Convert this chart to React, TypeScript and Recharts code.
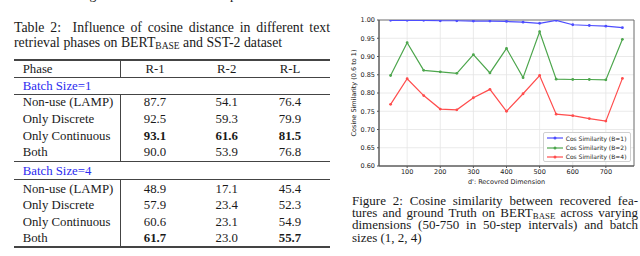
import React from "react";
import { LineChart, Line, XAxis, YAxis, CartesianGrid, Legend, ReferenceArea, Label } from "recharts";

// figure data: cosine similarity vs recovered dimension d'
const dims = [50, 100, 150, 200, 250, 300, 350, 400, 450, 500, 550, 600, 650, 700, 750];
const cosB1 = [0.999, 0.999, 0.999, 0.998, 0.998, 0.997, 0.997, 0.996, 0.994, 0.991, 0.999, 0.987, 0.985, 0.983, 0.979];
const cosB2 = [0.848, 0.938, 0.862, 0.858, 0.854, 0.905, 0.855, 0.922, 0.842, 0.968, 0.838, 0.837, 0.837, 0.836, 0.947];
const cosB4 = [0.769, 0.839, 0.793, 0.756, 0.754, 0.787, 0.81, 0.75, 0.798, 0.848, 0.742, 0.738, 0.73, 0.723, 0.84];
const xTicks = [100, 200, 300, 400, 500, 600, 700];
const yTicks = [0.6, 0.65, 0.7, 0.75, 0.8, 0.85, 0.9, 0.95, 1.0];

// table data
const phases = ["Non-use (LAMP)", "Only Discrete", "Only Continuous", "Both"];
const bs1R1 = ["87.7", "92.5", "93.1", "90.0"];
const bs1R2 = ["54.1", "59.3", "61.6", "53.9"];
const bs1RL = ["76.4", "79.9", "81.5", "76.8"];
const bs4R1 = ["48.9", "57.9", "60.6", "61.7"];
const bs4R2 = ["17.1", "23.4", "23.1", "23.0"];
const bs4RL = ["45.4", "52.3", "54.9", "55.7"];
const bs1Bold = [[false, false, false], [false, false, false], [true, true, true], [false, false, false]];
const bs4Bold = [[false, false, false], [false, false, false], [false, false, false], [true, false, true]];

const chartData = dims.map((d, i) => ({ dim: d, b1: cosB1[i], b2: cosB2[i], b4: cosB4[i] }));

const serif = "'Liberation Serif', 'Times New Roman', serif";
const ink = "#1a1a1a";

function LegendBox({ payload }: any) {
  return (
    <div style={{ border: "1px solid #d0d0d0", borderRadius: 2, background: "#fff", padding: "1px 3px", boxSizing: "border-box", width: 88, height: 30 }}>
      {(payload || []).map((p: any) => (
        <div key={p.value} style={{ display: "flex", alignItems: "center", height: 9.3, fontSize: 6, color: "#222" }}>
          <svg width={16} height={6} style={{ marginRight: 3 }}>
            <line x1={0} y1={3} x2={16} y2={3} stroke={p.color} strokeWidth={1.2} />
            <circle cx={8} cy={3} r={1.5} fill={p.color} />
          </svg>
          <span>{p.value}</span>
        </div>
      ))}
    </div>
  );
}

function Row({ y, children }: { y: number; children: React.ReactNode }) {
  return (
    <div style={{ position: "absolute", left: 0, top: y - 8, height: 16, lineHeight: "16px", width: 340 }}>{children}</div>
  );
}

function Cell({ x, text, bold, center = true }: { x: number; text: string; bold?: boolean; center?: boolean }) {
  return (
    <span style={{ position: "absolute", left: center ? x - 30 : x, width: center ? 60 : 120, textAlign: center ? "center" : "left", fontWeight: bold ? "bold" : "normal" }}>
      {text}
    </span>
  );
}

function HRule({ y, w = 1 }: { y: number; w?: number }) {
  return <div style={{ position: "absolute", left: 14, width: 316, top: y - w / 2, height: w, background: "#444" }} />;
}

function VRule({ y1, y2 }: { y1: number; y2: number }) {
  return <div style={{ position: "absolute", left: 120.3, width: 0.9, top: y1, height: y2 - y1, background: "#444" }} />;
}

const colX = [155, 226.7, 290];
const rows1Y = [102, 118.5, 135.5, 152.3];
const rows4Y = [188.5, 205, 221.5, 238];

export default function App() {
  const justify: React.CSSProperties = { textAlign: "justify", textAlignLast: "justify", whiteSpace: "nowrap" };
  return (
    <div style={{ position: "absolute", left: 0, top: 0, width: 640, height: 256, overflow: "hidden", background: "#fff", color: ink, fontFamily: serif }}>
      {/* cut-off line of body text above */}
      <div style={{ position: "absolute", left: -14, top: -13.5, fontSize: 13.5, lineHeight: "16px", width: 345 }}>
        for various ε′ settings to enhance their attack performance.
      </div>

      {/* table caption */}
      <div style={{ position: "absolute", left: 14, top: 20, width: 316, fontSize: 13.8, lineHeight: "15.3px" }}>
        <div style={justify}>Table 2:&nbsp; Influence of cosine distance in different text</div>
        <div>retrieval phases on BERT<sub style={{ fontSize: 9.5, verticalAlign: "-2px", lineHeight: 0 }}>BASE</sub> and SST-2 dataset</div>
      </div>

      {/* table */}
      <div style={{ position: "absolute", left: 0, top: 0, width: 340, height: 256, fontSize: 12.8 }}>
        <HRule y={60} w={1.3} />
        <HRule y={77} w={0.9} />
        <HRule y={94.3} w={0.9} />
        <HRule y={161.3} w={0.9} />
        <HRule y={179.7} w={0.9} />
        <HRule y={247} w={1.3} />
        <VRule y1={60} y2={77} />
        <VRule y1={94.3} y2={161.3} />
        <VRule y1={179.7} y2={247} />
        <Row y={68.5}>
          <Cell x={22.7} text="Phase" center={false} />
          <Cell x={colX[0]} text="R-1" />
          <Cell x={colX[1]} text="R-2" />
          <Cell x={colX[2]} text="R-L" />
        </Row>
        <Row y={85.5}>
          <span style={{ position: "absolute", left: 22.7, color: "#2b2bf0" }}>Batch Size=1</span>
        </Row>
        {phases.map((p, i) => (
          <Row key={"a" + p} y={rows1Y[i]}>
            <Cell x={22.7} text={p} center={false} />
            <Cell x={colX[0]} text={bs1R1[i]} bold={bs1Bold[i][0]} />
            <Cell x={colX[1]} text={bs1R2[i]} bold={bs1Bold[i][1]} />
            <Cell x={colX[2]} text={bs1RL[i]} bold={bs1Bold[i][2]} />
          </Row>
        ))}
        <Row y={170.5}>
          <span style={{ position: "absolute", left: 22.7, color: "#2b2bf0" }}>Batch Size=4</span>
        </Row>
        {phases.map((p, i) => (
          <Row key={"b" + p} y={rows4Y[i]}>
            <Cell x={22.7} text={p} center={false} />
            <Cell x={colX[0]} text={bs4R1[i]} bold={bs4Bold[i][0]} />
            <Cell x={colX[1]} text={bs4R2[i]} bold={bs4Bold[i][1]} />
            <Cell x={colX[2]} text={bs4RL[i]} bold={bs4Bold[i][2]} />
          </Row>
        ))}
      </div>

      {/* figure */}
      <div style={{ position: "absolute", left: 330, top: 0, fontFamily: "'DejaVu Sans', sans-serif" }}>
        <LineChart width={310} height={190} data={chartData} margin={{ top: 20, right: 6, bottom: 0, left: 0 }}>
          <CartesianGrid stroke="#e4e4e4" strokeWidth={0.8} />
          <XAxis
            dataKey="dim"
            type="number"
            domain={[15, 785]}
            ticks={xTicks}
            interval={0}
            height={24}
            tickSize={2}
            tickMargin={1}
            tick={{ fontSize: 6.5, fill: "#222" }}
            axisLine={{ stroke: "#555" }}
            tickLine={{ stroke: "#555" }}
          >
            <Label value="d': Recovred Dimension" position="insideBottom" offset={6} fontSize={6.5} fill="#222" />
          </XAxis>
          <YAxis
            type="number"
            domain={[0.6, 1.0]}
            ticks={yTicks}
            interval={0}
            width={49}
            tickSize={2}
            tickMargin={2}
            tickFormatter={(v: number) => v.toFixed(2)}
            tick={{ fontSize: 6.5, fill: "#222" }}
            axisLine={{ stroke: "#555" }}
            tickLine={{ stroke: "#555" }}
            allowDataOverflow
          >
            <Label value="Cosine Similarity (0.6 to 1)" angle={-90} position="insideLeft" offset={24} fontSize={6.5} fill="#222" style={{ textAnchor: "middle" }} />
          </YAxis>
          <ReferenceArea x1={15} x2={785} y1={0.6} y2={1.0} fill="none" stroke="#666" strokeWidth={0.9} />
          <Line type="linear" dataKey="b1" name="Cos Similarity (B=1)" stroke="#4d4dff" strokeWidth={1.2} dot={{ r: 1.4, fill: "#4d4dff", strokeWidth: 0 }} activeDot={false} isAnimationActive={false} />
          <Line type="linear" dataKey="b2" name="Cos Similarity (B=2)" stroke="#4da64d" strokeWidth={1.2} dot={{ r: 1.4, fill: "#4da64d", strokeWidth: 0 }} activeDot={false} isAnimationActive={false} />
          <Line type="linear" dataKey="b4" name="Cos Similarity (B=4)" stroke="#ff4d4d" strokeWidth={1.2} dot={{ r: 1.4, fill: "#ff4d4d", strokeWidth: 0 }} activeDot={false} isAnimationActive={false} />
          <Legend
            layout="horizontal"
            verticalAlign="middle"
            align="center"
            content={<LegendBox />}
            wrapperStyle={{ left: 212.7, top: 131.7, width: 88, height: 30 }}
          />
        </LineChart>
      </div>

      {/* figure caption */}
      <div style={{ position: "absolute", left: 352, top: 194.9, width: 286, fontSize: 13, lineHeight: "12.2px" }}>
        <div style={justify}>Figure 2: Cosine similarity between recovered fea-</div>
        <div style={justify}>
          tures and ground Truth on BERT<sub style={{ fontSize: 8.8, verticalAlign: "-2px", lineHeight: 0 }}>BASE</sub> across varying
        </div>
        <div style={justify}>dimensions (50-750 in 50-step intervals) and batch</div>
        <div>sizes (1, 2, 4)</div>
      </div>
    </div>
  );
}
